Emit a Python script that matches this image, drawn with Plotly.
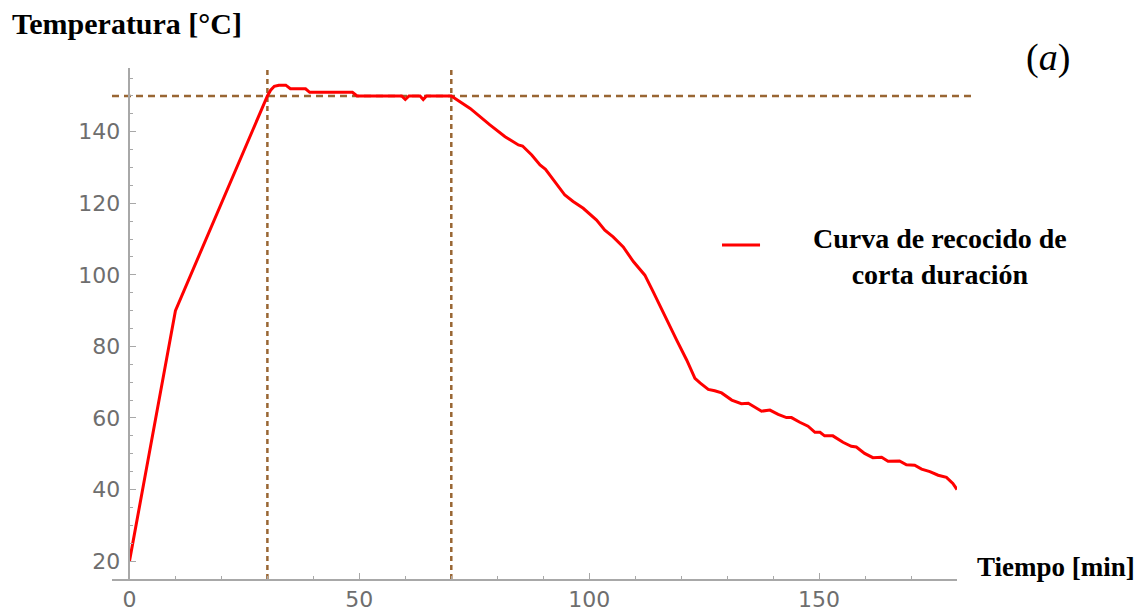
import plotly.graph_objects as go

# Annealing cycle: heating ramp, hold near the set point, slow cooling
time_heat = [0, 10, 30, 30.7, 31.5, 32.5, 34]
temp_heat = [20, 90, 150, 151.6, 152.7, 153, 153]

time_hold = [35, 38.3, 39.2, 48.5, 49.5, 59.2, 60, 60.8, 63.2, 63.9, 64.6, 70]
temp_hold = [152, 152, 151, 151, 150, 150, 149, 150, 150, 149, 150, 150]

time_cool = [74.1, 78.4, 81.7, 84.6, 85.5, 87.5, 89.3, 90.5, 92.2, 94.7, 96.5,
             98.7, 101.6, 103.4, 105.2, 107.4, 109.6, 110.8, 112.1, 113.9, 116.5,
             119.0, 121.2, 123.0, 124.1, 125.9, 127.3, 128.8, 131.0, 133.1, 134.6,
             136.0, 137.5, 139.3, 141.1, 142.9, 144.0, 145.8, 147.6, 149.1, 150.2,
             151.2, 153.0, 155.2, 157.0, 158.1, 159.9, 161.7, 163.6, 165.0, 167.5,
             169.0, 170.8, 172.3, 174.1, 175.9, 177.7, 179.1, 180.0]
temp_cool = [146.5, 141.9, 138.6, 136.3, 136.0, 133.5, 130.7, 129.5, 126.5, 122.3, 120.5,
             118.6, 115.3, 112.5, 110.6, 107.8, 103.7, 101.8, 99.9, 95.3, 88.3,
             81.8, 76.2, 71.1, 69.8, 68.0, 67.6, 67.0, 65.0, 64.0, 64.1,
             63.0, 61.9, 62.2, 61.0, 60.1, 60.1, 58.8, 57.7, 56.0, 56.0,
             55.0, 55.0, 53.2, 52.1, 51.9, 50.1, 48.9, 49.0, 47.9, 48.0,
             46.9, 46.8, 45.7, 45.0, 44.0, 43.4, 41.7, 40.0]

set_point = 150          # target annealing temperature [°C]
hold_start, hold_end = 30, 70   # hold window [min]

series_name = "Curva de recocido de<br>corta duración"
x_title = "Tiempo [min]"
y_title = "Temperatura [°C]"
panel_tag = "(<i>a</i>)"

time = time_heat + time_hold + time_cool
temp = temp_heat + temp_hold + temp_cool

BROWN = "#996633"
AXIS = "#a8a8a8"
TICKFONT = dict(family="DejaVu Sans", size=22, color="#6e6e6e")
SERIF = "Liberation Serif"

fig = go.Figure()
fig.add_trace(go.Scatter(x=time, y=temp, mode="lines",
                         line=dict(color="#ff0000", width=3),
                         showlegend=False, name="curva"))

# reference lines: set point and hold window
fig.add_shape(type="line", xref="paper", yref="y", x0=0, x1=1.018,
              y0=set_point, y1=set_point, layer="below",
              line=dict(color=BROWN, width=2.5, dash="7px,5px"))
for xv in (hold_start, hold_end):
    fig.add_shape(type="line", xref="x", yref="paper", x0=xv, x1=xv,
                  y0=0, y1=0.996, layer="below",
                  line=dict(color=BROWN, width=2.5, dash="5px,4px"))

# legend sample
fig.add_shape(type="line", xref="paper", yref="paper", x0=0.7219, x1=0.7669,
              y0=0.6536, y1=0.6536, line=dict(color="#ff0000", width=3))

fig.add_annotation(text=series_name, xref="paper", yref="paper", x=0.98, y=0.632,
                   xanchor="center", yanchor="middle", align="center", showarrow=False,
                   font=dict(family=SERIF, size=28, color="black", weight="bold"))
fig.add_annotation(text=y_title, xref="paper", yref="paper", x=-0.1207, y=1.088,
                   xanchor="left", yanchor="middle", showarrow=False,
                   font=dict(family=SERIF, size=30, color="black", weight="bold"))
fig.add_annotation(text=x_title, xref="paper", yref="paper", x=1.0213, y=0.0235,
                   xanchor="left", yanchor="middle", showarrow=False,
                   font=dict(family=SERIF, size=27, color="black", weight="bold"))
fig.add_annotation(text=panel_tag, xref="paper", yref="paper", x=1.1077, y=1.02,
                   xanchor="center", yanchor="middle", showarrow=False,
                   font=dict(family=SERIF, size=38, color="black"))

fig.update_xaxes(range=[-3.8, 180], showgrid=False, zeroline=False,
                 showline=True, linecolor=AXIS, linewidth=1.5, automargin=False,
                 ticks="inside", ticklen=6, tickwidth=1.2, tickcolor=AXIS,
                 tick0=0, dtick=50, tickfont=TICKFONT, ticklabelstandoff=0,
                 minor=dict(dtick=10, ticks="inside", ticklen=3, tickcolor=AXIS, tickwidth=1.2),
                 anchor="y")
fig.update_yaxes(range=[15, 157.8], showgrid=False, zeroline=False,
                 showline=True, linecolor=AXIS, linewidth=1.5, automargin=False,
                 ticks="inside", ticklen=6, tickwidth=1.2, tickcolor=AXIS,
                 tick0=0, dtick=20, tickfont=TICKFONT, ticklabelstandoff=4,
                 minor=dict(dtick=5, ticks="inside", ticklen=3, tickcolor=AXIS, tickwidth=1.2),
                 anchor="free", position=0.0205)

fig.update_layout(width=1143, height=611, paper_bgcolor="white", plot_bgcolor="white",
                  margin=dict(l=112, r=186, t=68, b=32), showlegend=False)

fig.write_html("out.html")
